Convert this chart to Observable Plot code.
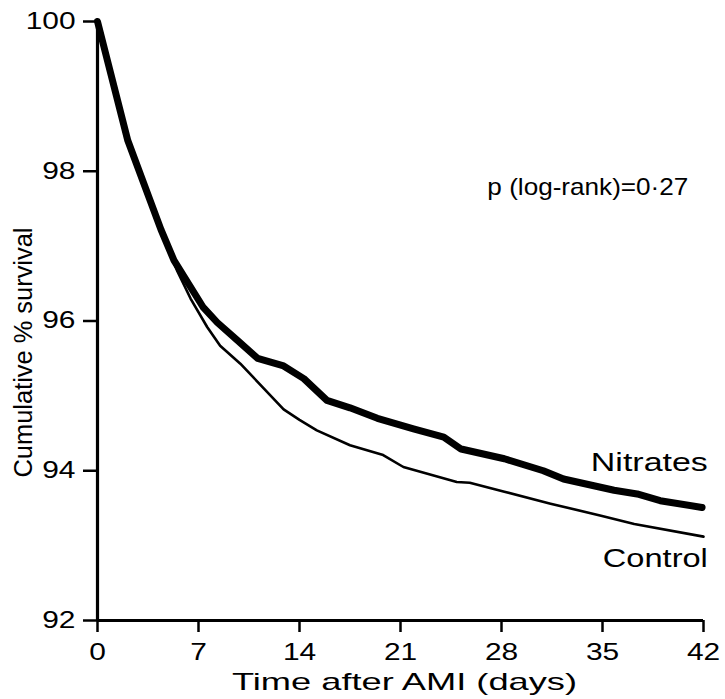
<!DOCTYPE html>
<html>
<head>
<meta charset="utf-8">
<script src="https://cdn.jsdelivr.net/npm/d3@7"></script>
<script src="https://cdn.jsdelivr.net/npm/@observablehq/plot@0.6"></script>
<style>
  html, body { margin: 0; padding: 0; background: #fff; }
</style>
</head>
<body>
<div id="chart"></div>
<script>
// ---- Data ----
const nitratesDays = [0, 2.1, 4.4, 5.3, 7.3, 8.3, 9.7, 11.1, 12.9, 14.3, 15.9, 17.5, 19.4, 21.9, 24.0, 25.2, 28.2, 30.9, 32.3, 35.8, 37.4, 39.0, 41.9];
const nitratesSurv = [100, 98.41, 97.22, 96.81, 96.19, 95.98, 95.74, 95.50, 95.40, 95.23, 94.94, 94.84, 94.70, 94.56, 94.45, 94.29, 94.16, 94.00, 93.89, 93.74, 93.69, 93.60, 93.51];

const controlDays = [0, 2.1, 4.4, 5.5, 6.45, 7.6, 8.5, 9.9, 12.9, 14.0, 15.2, 17.5, 19.8, 21.2, 24.9, 25.8, 28.2, 31.4, 34.9, 37.2, 42];
const controlSurv = [100, 98.41, 97.2, 96.68, 96.3, 95.92, 95.67, 95.43, 94.82, 94.68, 94.54, 94.34, 94.21, 94.05, 93.85, 93.84, 93.72, 93.56, 93.40, 93.29, 93.12];

const xTicks = [0, 7, 14, 21, 28, 35, 42];
const yTicks = [92, 94, 96, 98, 100];

const seriesLabels = ["Nitrates", "Control"];
const labelX = [42.3, 42.3];
const labelY = [94.11, 92.82];

const pText = ["p (log-rank)=0·27"];
const pX = [40.95];
const pY = [97.78];

const xLabel = "Time after AMI (days)";
const yLabel = "Cumulative % survival";

// ---- Build tables ----
const nitrates = nitratesDays.map((d, i) => ({day: d, surv: nitratesSurv[i]}));
const control = controlDays.map((d, i) => ({day: d, surv: controlSurv[i]}));
const labels = seriesLabels.map((s, i) => ({text: s, x: labelX[i], y: labelY[i]}));
const pLab = pText.map((s, i) => ({text: s, x: pX[i], y: pY[i]}));

const FONT = "Liberation Sans, Arial, Helvetica, sans-serif";

const chart = Plot.plot({
  width: 725,
  height: 699,
  marginLeft: 97,
  marginRight: 22,
  marginTop: 21,
  marginBottom: 79,
  style: {fontFamily: FONT, color: "black", background: "white", overflow: "visible"},
  x: {domain: [0, 42]},
  y: {domain: [92, 100]},
  marks: [
    Plot.axisX({ticks: xTicks, tickSize: 12, tickPadding: 11, fontSize: 23, strokeWidth: 2.5, label: null, tickFormat: d => String(d)}),
    Plot.axisY({ticks: yTicks, tickSize: 14, tickPadding: 8, fontSize: 23, strokeWidth: 2.5, label: null, tickFormat: d => String(d)}),
    Plot.ruleY([92], {x1: 0, x2: 42, stroke: "black", strokeWidth: 3}),
    Plot.ruleX([0], {y1: 92, y2: 100, stroke: "black", strokeWidth: 3.2}),
    Plot.line(control, {x: "day", y: "surv", stroke: "black", strokeWidth: 2.6, strokeLinejoin: "round", strokeLinecap: "round"}),
    Plot.line(nitrates, {x: "day", y: "surv", stroke: "black", strokeWidth: 7, strokeLinejoin: "round", strokeLinecap: "round"}),
    Plot.text(labels.filter(d => d.text === "Nitrates"), {x: "x", y: "y", text: "text", textAnchor: "end", lineAnchor: "middle", fontSize: 26, fill: "black"}),
    Plot.text(labels.filter(d => d.text === "Control"), {x: "x", y: "y", text: "text", textAnchor: "end", lineAnchor: "middle", fontSize: 25, fill: "black"}),
    Plot.text(pLab, {x: "x", y: "y", text: "text", textAnchor: "end", lineAnchor: "middle", fontSize: 24, fill: "black"}),
    Plot.text([xLabel], {frameAnchor: "bottom", textAnchor: "middle", lineAnchor: "middle", dx: 4, dy: 62, fontSize: 24, fill: "black"}),
    Plot.text([yLabel], {frameAnchor: "left", textAnchor: "middle", lineAnchor: "middle", rotate: -90, dx: -74, dy: 31.5, fontSize: 25, fill: "black"})
  ]
});

document.getElementById("chart").append(chart);

// Reference typeface is wide: stretch text horizontally to match its widths
const targets = {
  "p (log-rank)=0·27": 201,
  "Nitrates": 117,
  "Control": 105,
  "Time after AMI (days)": 345,
  "Cumulative % survival": 250
};
chart.querySelectorAll("text").forEach(t => {
  const s = t.textContent;
  const len = t.getComputedTextLength();
  if (!len) return;
  const target = targets[s] !== undefined ? targets[s] : len * 1.3;
  t.setAttribute("textLength", target);
  t.setAttribute("lengthAdjust", "spacingAndGlyphs");
});
</script>
</body>
</html>
